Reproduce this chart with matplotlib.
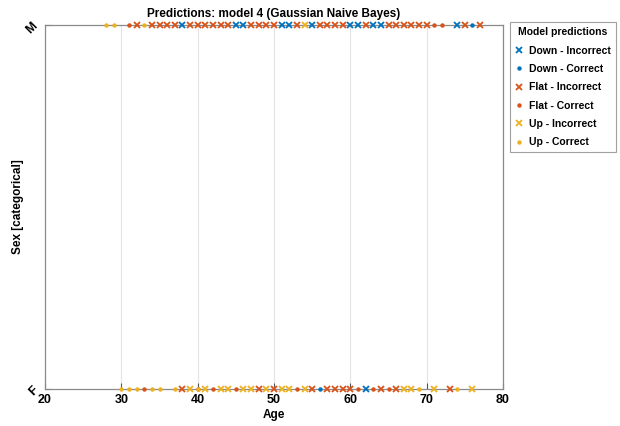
import matplotlib
matplotlib.use("Agg")
import matplotlib.pyplot as plt

plt.rcParams['font.family'] = ['Liberation Sans', 'DejaVu Sans']
plt.rcParams['font.weight'] = 'bold'

# ages on the "M" row and the prediction class of each marker
m_ages = [28, 29, 31, 32, 33, 34, 35, 36, 37, 38, 39, 40, 41, 42, 43, 44, 45, 46,
          47, 48, 49, 50, 51, 52, 53, 54, 55, 56, 57, 58, 59, 60, 61, 62, 63, 64,
          65, 66, 67, 68, 69, 70, 71, 72, 74, 75, 76, 77]
m_cls = ["UC", "UC", "FC", "FI", "UC", "FI", "FI", "FI", "FI", "DI", "FI", "FI", "FI", "FI",
         "FI", "FI", "DI", "DI", "FI", "FI", "FI", "FI", "DI", "DI", "FI", "UI", "DI", "FI",
         "FI", "FI", "FI", "DI", "DI", "FI", "DI", "DI", "FI", "FI", "FI", "FI", "FI", "FI",
         "FC", "FC", "DI", "FI", "DC", "FI"]

# ages on the "F" row
f_ages = [30, 31, 32, 33, 34, 35, 37, 38, 39, 40, 40, 41, 42, 43, 44, 45, 46, 47, 48,
          49, 50, 51, 52, 53, 54, 55, 56, 57, 58, 59, 60, 61, 62, 63, 64, 65, 66, 67,
          68, 69, 71, 73, 74, 76]
f_cls = ["UC", "UC", "UC", "FC", "UC", "UC", "UC", "FI", "UI", "UC", "FC", "UI", "FC", "UI",
         "UI", "FC", "UI", "UI", "FI", "UI", "FI", "UI", "UI", "FC", "UI", "FI", "DC", "FI",
         "FI", "FI", "FI", "FC", "DI", "FC", "FI", "FC", "FI", "UI", "UI", "UC", "UI", "FI",
         "UC", "UI"]

classes = ["DI", "DC", "FI", "FC", "UI", "UC"]
class_names = ["Down - Incorrect", "Down - Correct", "Flat - Incorrect",
               "Flat - Correct", "Up - Incorrect", "Up - Correct"]
colors = {"D": "#0072BD", "F": "#D95319", "U": "#EDB120"}

fig = plt.figure(figsize=(6.2, 4.26), dpi=100)
ax = fig.add_axes([0.0726, 0.0869, 0.7387, 0.8545])

for c, name in zip(classes, class_names):
    xs = [a for a, k in zip(m_ages, m_cls) if k == c] + [a for a, k in zip(f_ages, f_cls) if k == c]
    ys = [1] * sum(k == c for k in m_cls) + [0] * sum(k == c for k in f_cls)
    if c[1] == "I":
        ax.plot(xs, ys, 'x', color=colors[c[0]], ms=5, mew=1.3, ls='none',
                clip_on=False, label=name, zorder=3)
    else:
        ax.plot(xs, ys, 'o', color=colors[c[0]], ms=3.2, mew=0, ls='none',
                clip_on=False, label=name, zorder=3)

ax.set_xlim(20, 80)
ax.set_ylim(0, 1)
ax.set_xticks([20, 30, 40, 50, 60, 70, 80])
ax.set_yticks([0, 1])
ax.set_yticklabels(["F", "M"], rotation=45)
ax.tick_params(direction='in', length=4, labelsize=9, color='#555555')
ax.grid(axis='x', color='#e3e3e3', lw=0.8)
ax.set_axisbelow(True)
for s in ax.spines.values():
    s.set_color('#8a8a8a')
    s.set_linewidth(0.9)

ax.set_title("Predictions: model 4 (Gaussian Naive Bayes)", fontsize=8.5, fontweight='bold', pad=6)
ax.set_xlabel("Age", fontsize=8.5, fontweight='bold', labelpad=2)
ax.set_ylabel("Sex [categorical]", fontsize=8.5, fontweight='bold')
ax.yaxis.set_label_coords(-0.045, 0.5)

leg = ax.legend(title="Model predictions", loc='upper left', bbox_to_anchor=(1.015, 1.008),
                fontsize=7.5, title_fontsize=7.5, frameon=True, fancybox=False,
                edgecolor='#888888', handlelength=0.8, handletextpad=0.5,
                borderpad=0.5, labelspacing=0.8, borderaxespad=0)
leg.get_title().set_fontweight('bold')
leg.get_frame().set_linewidth(0.8)

fig.savefig("out.png", dpi=100)
